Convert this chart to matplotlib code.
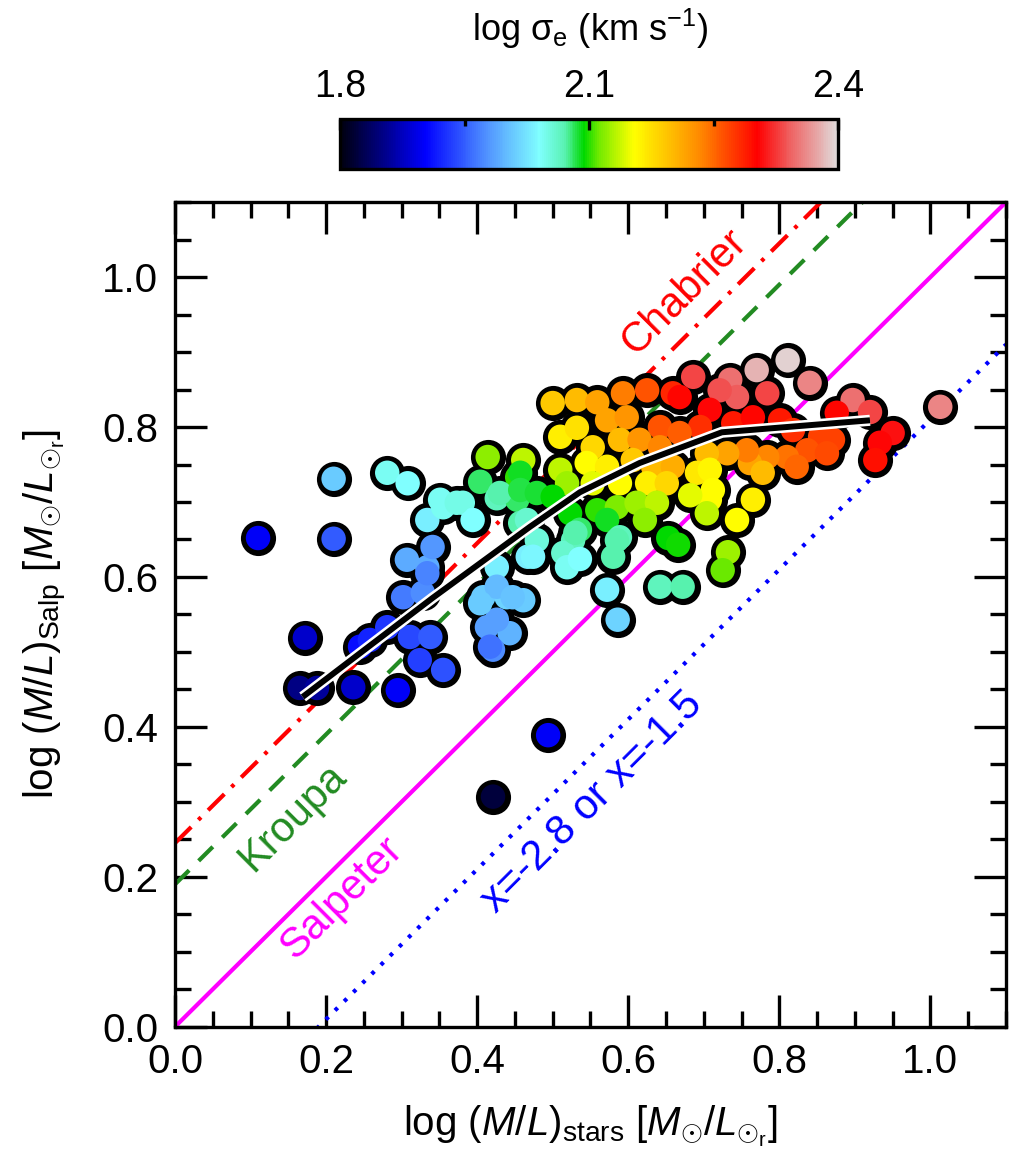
import matplotlib
matplotlib.use("Agg")
import matplotlib.pyplot as plt
from matplotlib.colors import LinearSegmentedColormap
from matplotlib.ticker import MultipleLocator, FixedLocator
import numpy as np

plt.rcParams['font.family'] = ['Liberation Sans', 'DejaVu Sans']
plt.rcParams['mathtext.fontset'] = 'custom'
plt.rcParams['mathtext.rm'] = 'Liberation Sans'
plt.rcParams['mathtext.it'] = 'Liberation Sans:italic'
plt.rcParams['mathtext.bf'] = 'Liberation Sans:bold'

# galaxies: log(M/L)_stars, log(M/L)_Salp, log sigma_e
ml_stars = [0.110, 0.210, 0.210, 0.281, 0.308, 0.172, 0.165, 0.188, 0.236, 0.245,
            0.258, 0.295, 0.281, 0.311, 0.338, 0.324, 0.355, 0.307, 0.334, 0.302,
            0.328, 0.334, 0.355, 0.381, 0.394, 0.404, 0.414, 0.426, 0.453, 0.461,
            0.453, 0.457, 0.426, 0.408, 0.439, 0.413, 0.443, 0.421, 0.461, 0.467,
            0.500, 0.532, 0.510, 0.532, 0.559, 0.593, 0.625, 0.659, 0.572, 0.598,
            0.642, 0.553, 0.589, 0.615, 0.642, 0.545, 0.572, 0.606, 0.633, 0.659,
            0.510, 0.519, 0.553, 0.589, 0.625, 0.651, 0.457, 0.430, 0.457, 0.479,
            0.500, 0.351, 0.373, 0.466, 0.523, 0.559, 0.585, 0.611, 0.638, 0.536,
            0.572, 0.589, 0.479, 0.527, 0.514, 0.474, 0.519, 0.580, 0.572, 0.586,
            0.653, 0.666, 0.642, 0.672, 0.426, 0.341, 0.334, 0.686, 0.735, 0.770,
            0.811, 0.840, 0.784, 0.744, 0.721, 0.897, 0.920, 0.876, 0.950, 0.933,
            0.927, 1.013, 0.668, 0.708, 0.695, 0.739, 0.765, 0.801, 0.818, 0.854,
            0.871, 0.837, 0.810, 0.823, 0.863, 0.784, 0.761, 0.778, 0.757, 0.731,
            0.704, 0.668, 0.691, 0.708, 0.712, 0.708, 0.704, 0.765, 0.744, 0.732,
            0.725, 0.536, 0.585, 0.530, 0.447, 0.417, 0.426, 0.421, 0.494, 0.404,
            0.622, 0.682]
ml_salp = [0.652, 0.731, 0.651, 0.739, 0.725, 0.519, 0.452, 0.452, 0.453, 0.507,
           0.516, 0.449, 0.533, 0.520, 0.520, 0.489, 0.476, 0.623, 0.613, 0.573,
           0.579, 0.676, 0.693, 0.699, 0.676, 0.727, 0.760, 0.705, 0.703, 0.756,
           0.733, 0.672, 0.613, 0.573, 0.573, 0.533, 0.525, 0.503, 0.569, 0.627,
           0.832, 0.836, 0.787, 0.799, 0.833, 0.845, 0.849, 0.845, 0.809, 0.813,
           0.800, 0.773, 0.783, 0.783, 0.773, 0.752, 0.747, 0.756, 0.747, 0.747,
           0.743, 0.725, 0.725, 0.725, 0.725, 0.725, 0.739, 0.712, 0.716, 0.712,
           0.707, 0.703, 0.699, 0.676, 0.685, 0.689, 0.693, 0.699, 0.699, 0.663,
           0.676, 0.653, 0.649, 0.649, 0.632, 0.627, 0.613, 0.627, 0.583, 0.543,
           0.652, 0.643, 0.587, 0.587, 0.587, 0.640, 0.605, 0.867, 0.863, 0.876,
           0.889, 0.859, 0.845, 0.840, 0.849, 0.836, 0.820, 0.819, 0.792, 0.779,
           0.756, 0.827, 0.840, 0.823, 0.800, 0.805, 0.813, 0.809, 0.796, 0.787,
           0.783, 0.769, 0.760, 0.747, 0.765, 0.760, 0.752, 0.739, 0.769, 0.765,
           0.765, 0.792, 0.739, 0.743, 0.716, 0.703, 0.685, 0.703, 0.676, 0.633,
           0.609, 0.624, 0.649, 0.659, 0.573, 0.507, 0.543, 0.307, 0.389, 0.565,
           0.676, 0.709]
log_sigma = [1.900, 2.010, 1.950, 2.045, 2.040, 1.880, 1.850, 1.860, 1.880, 1.910,
             1.920, 1.900, 1.930, 1.940, 1.950, 1.935, 1.945, 1.990, 1.990, 1.965,
             1.975, 2.030, 2.045, 2.050, 2.040, 2.080, 2.120, 2.065, 2.080, 2.135,
             2.100, 2.070, 2.030, 2.010, 2.015, 1.985, 1.995, 1.975, 2.010, 2.030,
             2.190, 2.200, 2.165, 2.175, 2.215, 2.240, 2.260, 2.285, 2.215, 2.225,
             2.260, 2.180, 2.200, 2.225, 2.235, 2.155, 2.165, 2.190, 2.200, 2.210,
             2.135, 2.125, 2.145, 2.155, 2.165, 2.180, 2.090, 2.070, 2.085, 2.088,
             2.095, 2.045, 2.050, 2.060, 2.095, 2.100, 2.115, 2.125, 2.135, 2.080,
             2.090, 2.065, 2.055, 2.065, 2.060, 2.035, 2.045, 2.070, 2.030, 2.015,
             2.095, 2.097, 2.065, 2.070, 2.000, 1.980, 1.970, 2.330, 2.350, 2.380,
             2.395, 2.360, 2.330, 2.340, 2.335, 2.350, 2.330, 2.300, 2.310, 2.305,
             2.295, 2.360, 2.300, 2.305, 2.280, 2.290, 2.300, 2.290, 2.280, 2.270,
             2.270, 2.260, 2.245, 2.250, 2.265, 2.235, 2.215, 2.200, 2.240, 2.215,
             2.200, 2.255, 2.170, 2.160, 2.155, 2.155, 2.135, 2.165, 2.155, 2.125,
             2.110, 2.040, 2.070, 2.070, 2.005, 1.960, 1.985, 1.820, 1.900, 2.010,
             2.120, 2.145]

# running mean line
trend_x = [0.169, 0.341, 0.470, 0.536, 0.615, 0.724, 0.920]
trend_y = [0.440, 0.572, 0.667, 0.713, 0.752, 0.793, 0.809]

# IMF offsets relative to Salpeter
off_chab = 0.245
off_krou = 0.19
off_bottom = -0.19

cmap = LinearSegmentedColormap.from_list('sig', [
    (0.00, (0.0, 0.0, 0.06)),
    (0.17, (0.0, 0.0, 1.0)),
    (0.30, (0.33, 0.6, 1.0)),
    (0.40, (0.5, 1.0, 1.0)),
    (0.45, (0.35, 0.95, 0.7)),
    (0.49, (0.0, 0.85, 0.0)),
    (0.52, (0.45, 0.92, 0.0)),
    (0.59, (1.0, 1.0, 0.0)),
    (0.72, (1.0, 0.55, 0.0)),
    (0.84, (1.0, 0.0, 0.0)),
    (0.90, (0.94, 0.35, 0.35)),
    (1.00, (0.88, 0.86, 0.86))])

fig = plt.figure(figsize=(10.09, 11.55), dpi=100)
ax = fig.add_axes([0.1734, 0.111, 0.8236, 0.714])

xx = np.array([0.0, 1.1])
ax.plot(xx, xx, color='magenta', lw=3, zorder=2)
ax.plot(xx, xx + off_krou, color='forestgreen', lw=3, dashes=(4.8, 3.2), zorder=2)
ax.plot(xx, xx + off_chab, color='red', lw=3, dashes=(5.5, 2.4, 0.9, 2.4), zorder=2)
ax.plot(xx, xx + off_bottom, color='blue', lw=3, dashes=(0.9, 2.2), zorder=2)

ax.scatter(ml_stars, ml_salp, s=640, c='k', lw=0, zorder=3)
sc = ax.scatter(ml_stars, ml_salp, s=310, c=log_sigma, cmap=cmap, vmin=1.8, vmax=2.4,
                lw=0, zorder=4)

ax.plot(trend_x, trend_y, color='white', lw=8, zorder=5, solid_capstyle='butt')
ax.plot(trend_x, trend_y, color='black', lw=4.3, zorder=6, solid_capstyle='butt')

txt = dict(rotation=45, rotation_mode='anchor', ha='center', va='center', fontsize=30)
ax.text(0.675, 0.981, 'Chabrier', color='red', **txt)
ax.text(0.156, 0.279, 'Kroupa', color='forestgreen', **txt)
ax.text(0.221, 0.172, 'Salpeter', color='magenta', **txt)
ax.text(0.552, 0.299, 'x=-2.8 or x=-1.5', color='blue', **txt)

ax.set_xlim(0, 1.1)
ax.set_ylim(0, 1.1)
ax.xaxis.set_major_locator(MultipleLocator(0.2))
ax.xaxis.set_minor_locator(MultipleLocator(0.05))
ax.yaxis.set_major_locator(MultipleLocator(0.2))
ax.yaxis.set_minor_locator(MultipleLocator(0.05))
ax.tick_params(which='both', direction='in', top=True, right=True, width=2.4,
               labelsize=29, pad=12)
ax.tick_params(which='major', length=23)
ax.tick_params(which='minor', length=11.5)
for sp in ax.spines.values():
    sp.set_linewidth(2.4)
ax.set_xticklabels(['%.1f' % v for v in ax.get_xticks()])
ax.set_yticklabels(['%.1f' % v for v in ax.get_yticks()])
ax.set_xlabel(r'log $(M/L)_{\rm stars}$ [$M_{\odot}/L_{\odot_{\rm r}}$]', fontsize=29, labelpad=16)
ax.set_ylabel(r'log $(M/L)_{\rm Salp}$ [$M_{\odot}/L_{\odot_{\rm r}}$]', fontsize=29, labelpad=24)

cax = fig.add_axes([0.337, 0.8537, 0.4936, 0.0433])
cb = fig.colorbar(sc, cax=cax, orientation='horizontal')
cb.outline.set_linewidth(2.4)
cax.xaxis.set_ticks_position('top')
cax.xaxis.set_major_locator(FixedLocator([1.8, 2.1, 2.4]))
cax.xaxis.set_minor_locator(FixedLocator([1.95, 2.25]))
cax.set_xticklabels(['1.8', '2.1', '2.4'])
cax.tick_params(which='both', direction='in', width=2.4, labelsize=27, pad=10)
cax.tick_params(which='major', length=8)
cax.tick_params(which='minor', length=5)
fig.text(0.585, 0.975, 'log σ$_{\\rm e}$ (km s$^{-1}$)', fontsize=26, ha='center', va='center')

fig.savefig('out.png', dpi=100)
